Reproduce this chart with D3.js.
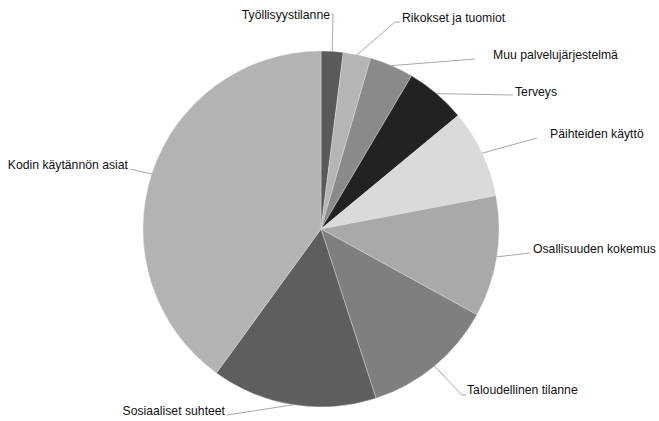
<!DOCTYPE html>
<html>
<head>
<meta charset="utf-8">
<script src="https://cdn.jsdelivr.net/npm/d3@7"></script>
<style>
  html, body { margin: 0; padding: 0; background: #fff; }
  svg { display: block; }
</style>
</head>
<body>
<svg id="chart" width="659" height="421"></svg>
<script>
// Data (clockwise from 12 o'clock)
const categories = [
  "Työllisyystilanne",
  "Rikokset ja tuomiot",
  "Muu palvelujärjestelmä",
  "Terveys",
  "Päihteiden käyttö",
  "Osallisuuden kokemus",
  "Taloudellinen tilanne",
  "Sosiaaliset suhteet",
  "Kodin käytännön asiat"
];
const values = [2, 2.5, 4, 5.5, 8, 11, 12, 15, 40];
const colors = ["#5a5a5a", "#b5b5b5", "#8a8a8a", "#222222", "#dadada", "#a9a9a9", "#7f7f7f", "#5e5e5e", "#b3b3b3"];

// Label layout: text anchor point, leader elbow point, leader end x
const labelText = [[330, 15, "end"], [402, 18, "start"], [493, 55, "start"], [515, 92, "start"], [550, 134, "start"], [533, 249, "start"], [467, 390, "start"], [225, 411, "end"], [128, 165, "end"]];
const labelElbow = [[333, 14], [395, 22], [475, 59], [513, 95], [537, 138], [530, 253], [462, 395], [227, 415], [130, 169]];
const labelEnd = [331, 400, 475, 513, 537, 530, 466, 227, 130];

const cx = 321, cy = 229, R = 178;
const svg = d3.select("#chart");

const pie = d3.pie().value(d => d).sort(null);
const arcs = pie(values);
const arc = d3.arc().innerRadius(0).outerRadius(R);

const g = svg.append("g").attr("transform", `translate(${cx},${cy})`);
g.selectAll("path.slice")
  .data(arcs)
  .join("path")
  .attr("class", "slice")
  .attr("d", arc)
  .attr("fill", (d, i) => colors[i])
  .attr("stroke", "#e6e6e6")
  .attr("stroke-width", 0.4);

// Leader lines
const edgeArc = d3.arc().innerRadius(R).outerRadius(R);
svg.append("g").selectAll("polyline")
  .data(arcs)
  .join("polyline")
  .attr("fill", "none")
  .attr("stroke", "#a8a8a8")
  .attr("stroke-width", 1)
  .attr("points", (d, i) => {
    const c = edgeArc.centroid(d);
    const p0 = [cx + c[0], cy + c[1]];
    const e = labelElbow[i];
    return [p0, e, [labelEnd[i], e[1]]].map(p => p.join(",")).join(" ");
  });

// Labels (slightly condensed, as in the reference)
svg.append("g").selectAll("text")
  .data(categories)
  .join("text")
  .attr("transform", (d, i) => `translate(${labelText[i][0]},${labelText[i][1]}) scale(0.94,1)`)
  .attr("text-anchor", (d, i) => labelText[i][2])
  .attr("dominant-baseline", "central")
  .attr("font-family", "'Liberation Sans', Arial, sans-serif")
  .attr("font-size", "13px")
  .attr("fill", "#111")
  .text(d => d);
</script>
</body>
</html>
